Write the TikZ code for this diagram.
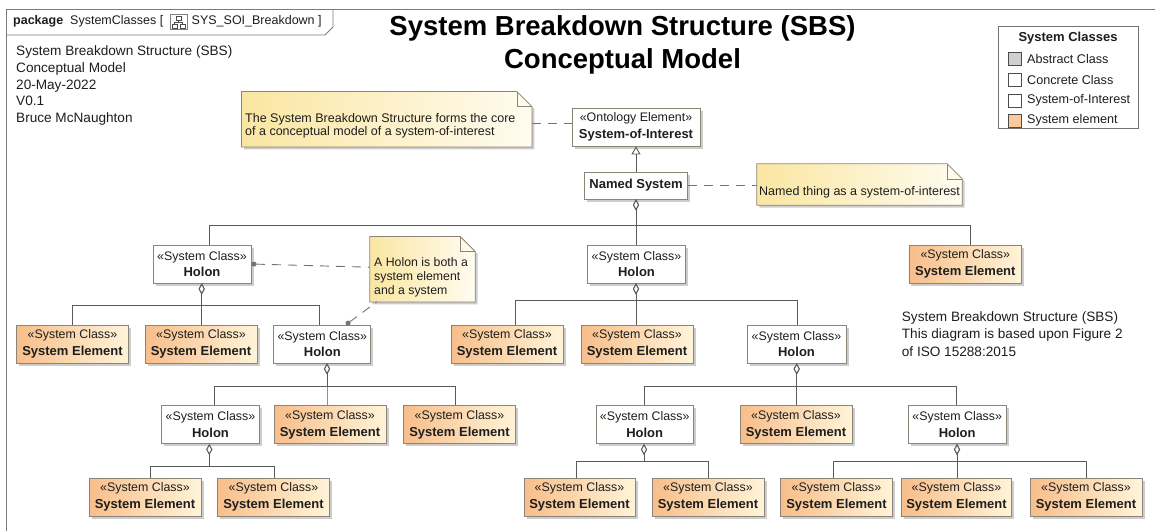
\documentclass[tikz,border=0pt]{standalone}
\usepackage{fontspec}
\setmainfont{Liberation Sans}
\usetikzlibrary{arrows.meta,shadows}

\definecolor{bord}{HTML}{8C8478}
\definecolor{linec}{HTML}{5A5A5A}
\definecolor{seL}{HTML}{F8BE8A}
\definecolor{seR}{HTML}{FFF4D8}
\definecolor{noteL}{HTML}{FAE6A2}
\definecolor{noteR}{HTML}{FFFCF0}
\definecolor{txt}{HTML}{1E1E1E}
\definecolor{shad}{HTML}{CDCDCD}
\definecolor{peach}{HTML}{FDC99A}
\definecolor{absg}{HTML}{D0D0D0}
\definecolor{framec}{HTML}{7A7A7A}

\newcommand{\nm}{\fontsize{13}{16.7}\selectfont\bfseries}
\newcommand{\stclass}{«System Class»}

\tikzset{
  cls/.style={draw=bord, line width=0.8pt, fill=white, inner sep=0pt,
    minimum height=38pt, align=center, text=txt,
    font=\fontsize{12.4}{16.7}\selectfont,
    drop shadow={shadow xshift=2.5pt, shadow yshift=-2.5pt, fill=shad, opacity=1}},
  holon/.style={cls, minimum width=98pt},
  selem/.style={cls, minimum width=112pt, left color=seL, right color=seR},
  comp/.style={draw=linec, line width=0.9pt, -{Diamond[length=11pt,width=6pt,fill=white]}},
  gen/.style={draw=linec, line width=0.9pt, -{Triangle[length=8pt,width=9pt,fill=white]}},
  notelink/.style={draw=linec!85, line width=0.9pt, dash pattern=on 9pt off 7pt},
  dotlink/.style={notelink, {Circle[length=5pt]}-},
  noteframe/.style={inner sep=0pt, draw=none},
  notetext/.style={inner sep=0pt, anchor=west, align=left, text=txt, font=\fontsize{12.5}{13.2}\selectfont},
  plain/.style={inner sep=0pt, text=txt, align=left},
  legsq/.style={draw=black!70, line width=0.8pt, minimum size=13pt, inner sep=0pt},
  legtx/.style={inner sep=0pt, anchor=west, text=txt, font=\fontsize{12.6}{14}\selectfont},
  frame/.style={draw=framec, line width=0.9pt}
}

\newcommand{\drawnote}[1]{%
  \fill[shad] ([shift={(2.5pt,-2.5pt)}]#1.north west) -- ([shift={(-12.5pt,-2.5pt)}]#1.north east)
     -- ([shift={(2.5pt,-17.5pt)}]#1.north east) -- ([shift={(2.5pt,-2.5pt)}]#1.south east)
     -- ([shift={(2.5pt,-2.5pt)}]#1.south west) -- cycle;
  \shade[left color=noteL, right color=noteR] (#1.north west) -- ([xshift=-15pt]#1.north east)
     -- ([yshift=-15pt]#1.north east) -- (#1.south east) -- (#1.south west) -- cycle;
  \draw[bord, line width=0.8pt] (#1.north west) -- ([xshift=-15pt]#1.north east)
     -- ([yshift=-15pt]#1.north east) -- (#1.south east) -- (#1.south west) -- cycle;
  \draw[bord, line width=0.6pt] ([xshift=-15pt]#1.north east) -- ([xshift=-15pt,yshift=-15pt]#1.north east)
     -- ([yshift=-15pt]#1.north east);
}

\newcommand{\cmpconn}[5]{%
  \coordinate (pp) at ([xshift=#4pt]#3.south);
  \coordinate (bb) at (0,#5);
  \draw[comp] ([xshift=#2pt]#1.north) |- (pp |- bb) -- (pp);
}

\begin{document}
\begin{tikzpicture}[x=1pt,y=-1pt]
\useasboundingbox (0,0) rectangle (1155,531);
\fill[white] (0,0) rectangle (1155,531);

% frame and tab
\draw[frame] (6,531) -- (6,9) -- (1155,9);
\draw[frame] (6,35) -- (325,35) -- (333,27) -- (333,9);
\node[plain, anchor=west, font=\fontsize{12.5}{14}\selectfont] (pkg) at (13,21) {\textbf{package}\hspace{7pt}SystemClasses [};
\draw[gray, line width=0.6pt, fill=white] (170,14) rectangle (187,29);
\draw[black!70, line width=0.5pt] (176,16) rectangle (181,20);
\draw[black!70, line width=0.5pt] (172,24) rectangle (177,28);
\draw[black!70, line width=0.5pt] (180,24) rectangle (185,28);
\draw[black!70, line width=0.5pt] (178.5,20) -- (178.5,22) (174.5,22) -- (182.5,22) (174.5,22) -- (174.5,24) (182.5,22) -- (182.5,24);
\node[plain, anchor=west, font=\fontsize{12.5}{14}\selectfont] (pkgname) at (191.5,21) {SYS\_SOI\_Breakdown ]};

% header text
\node[plain, anchor=west, font=\fontsize{13.6}{16.9}\selectfont] (hdr) at (16,85.5)
  {System Breakdown Structure (SBS)\\Conceptual Model\\20-May-2022\\V0.1\\Bruce McNaughton};

% title
\node[inner sep=0pt, align=center, text=black, font=\fontsize{27.5}{33}\selectfont\bfseries] (title) at (622.5,45)
  {System Breakdown Structure (SBS)\\Conceptual Model};

% legend
\node[draw=black!55, line width=0.8pt, fill=white, minimum width=140pt, minimum height=101.5pt, inner sep=0pt] (leg) at (1068,77.5) {};
\node[inner sep=0pt, text=txt, font=\fontsize{13}{14}\selectfont\bfseries] (legt) at (1068,38) {System Classes};
\node[legsq, fill=absg] (lq1) at (1014.5,58.5) {};
\node[legtx] (lt1) at (1027,58.5) {Abstract Class};
\node[legsq, fill=white] (lq2) at (1014.5,80) {};
\node[legtx] (lt2) at (1027,80) {Concrete Class};
\node[legsq, fill=white] (lq3) at (1014.5,100.5) {};
\node[legtx] (lt3) at (1027,100.5) {System-of-Interest};
\node[legsq, fill=peach] (lq4) at (1014.5,120.5) {};
\node[legtx] (lt4) at (1027,120.5) {System element};

% notes
\node[noteframe, minimum width=290pt, minimum height=55pt] (n1) at (386.7,119.2) {};
\drawnote{n1}
\node[notetext] (n1t) at (245,126) {The System Breakdown Structure forms the core\\of a conceptual model of a system-of-interest};

\node[noteframe, minimum width=205pt, minimum height=41pt] (n2) at (859.5,184.5) {};
\drawnote{n2}
\node[notetext] (n2t) at (759,192.3) {Named thing as a system-of-interest};

\node[noteframe, minimum width=105pt, minimum height=65pt] (n3) at (422.5,269.2) {};
\drawnote{n3}
\node[notetext, font=\fontsize{12.3}{14.2}\selectfont] (n3t) at (374,277.5) {A Holon is both a\\system element\\and a system};

% SBS note text
\node[plain, anchor=west, font=\fontsize{13.6}{17.2}\selectfont] (sbs) at (901.7,334)
  {System Breakdown Structure (SBS)\\This diagram is based upon Figure 2\\of ISO 15288:2015};

% top classes
\node[cls, minimum width=128pt] (soi) at (636,127) {«Ontology Element»\\{\nm System-of-Interest}};
\node[cls, minimum width=103pt, minimum height=27pt] (ns) at (636,185.5) {\nm Named System};

% level 1
\node[holon] (hA) at (202,264) {\stclass\\{\nm Holon}};
\node[holon] (hB) at (636.5,264) {\stclass\\{\nm Holon}};
\node[selem, minimum width=112.7pt] (seC) at (965.3,264) {\stclass\\{\nm System Element}};

% level 2
\node[selem] (se1) at (72.5,344) {\stclass\\{\nm System Element}};
\node[selem] (se2) at (201,344) {\stclass\\{\nm System Element}};
\node[holon, minimum width=97pt] (hD) at (322.3,344) {\stclass\\{\nm Holon}};
\node[selem] (se7) at (507,344) {\stclass\\{\nm System Element}};
\node[selem] (se8) at (637,344) {\stclass\\{\nm System Element}};
\node[holon, minimum width=99pt] (hF) at (796.5,344) {\stclass\\{\nm Holon}};

% level 3
\node[holon] (hE) at (210.5,424.6) {\stclass\\{\nm Holon}};
\node[selem] (se3) at (330,424.6) {\stclass\\{\nm System Element}};
\node[selem] (se4) at (459.5,424.6) {\stclass\\{\nm System Element}};
\node[holon, minimum width=97pt] (hG) at (644.7,424.6) {\stclass\\{\nm Holon}};
\node[selem] (se9) at (796,424.6) {\stclass\\{\nm System Element}};
\node[holon] (hH) at (957.2,424.6) {\stclass\\{\nm Holon}};

% level 4
\node[selem] (se5) at (145,497) {\stclass\\{\nm System Element}};
\node[selem] (se6) at (273.5,497) {\stclass\\{\nm System Element}};
\node[selem, minimum width=111pt] (se10) at (579.5,497) {\stclass\\{\nm System Element}};
\node[selem] (se11) at (708,497) {\stclass\\{\nm System Element}};
\node[selem] (se12) at (836.5,497) {\stclass\\{\nm System Element}};
\node[selem, minimum width=110pt] (se13) at (956.5,497) {\stclass\\{\nm System Element}};
\node[selem] (se14) at (1086,497) {\stclass\\{\nm System Element}};

% generalization
\draw[gen] (ns.north) -- (soi.south);

% compositions
\cmpconn{hA}{7}{ns}{0}{225.7}
\cmpconn{hB}{-0.5}{ns}{0}{225.7}
\cmpconn{seC}{5.4}{ns}{0}{225.7}

\cmpconn{se1}{0.2}{hA}{-0.3}{305}
\cmpconn{se2}{0.7}{hA}{-0.3}{305}
\cmpconn{hD}{-3.3}{hA}{-0.3}{305}

\cmpconn{hE}{3.5}{hD}{4.7}{386.7}
\cmpconn{se3}{-3}{hD}{4.7}{386.7}
\cmpconn{se4}{-3.8}{hD}{4.7}{386.7}

\cmpconn{se5}{5}{hE}{-1.2}{466.7}
\cmpconn{se6}{0.5}{hE}{-1.2}{466.7}

\cmpconn{se7}{8.7}{hB}{-0.5}{300.7}
\cmpconn{se8}{-1}{hB}{-0.5}{300.7}
\cmpconn{hF}{0.5}{hB}{-0.5}{300.7}

\cmpconn{hG}{-0.7}{hF}{0.2}{386.3}
\cmpconn{se9}{0.7}{hF}{0.2}{386.3}
\cmpconn{hH}{-0.5}{hF}{0.2}{386.3}

\cmpconn{se10}{-3.5}{hG}{-0.7}{461.7}
\cmpconn{se11}{0.3}{hG}{-0.7}{461.7}

\cmpconn{se12}{-3.2}{hH}{-0.2}{461.7}
\cmpconn{se13}{0.5}{hH}{-0.2}{461.7}
\cmpconn{se14}{0.7}{hH}{-0.2}{461.7}

% note links
\coordinate (y123) at (0,123);
\draw[notelink] (n1.east |- y123) -- (soi.west |- y123);
\draw[notelink] (ns.east) -- (n2.west |- ns.east);
\draw[dotlink] (hA.east) -- ([yshift=2pt]n3.west);
\draw[dotlink] ([xshift=23.7pt]hD.north) -- ([xshift=7pt]n3.south west);
\end{tikzpicture}
\end{document}
